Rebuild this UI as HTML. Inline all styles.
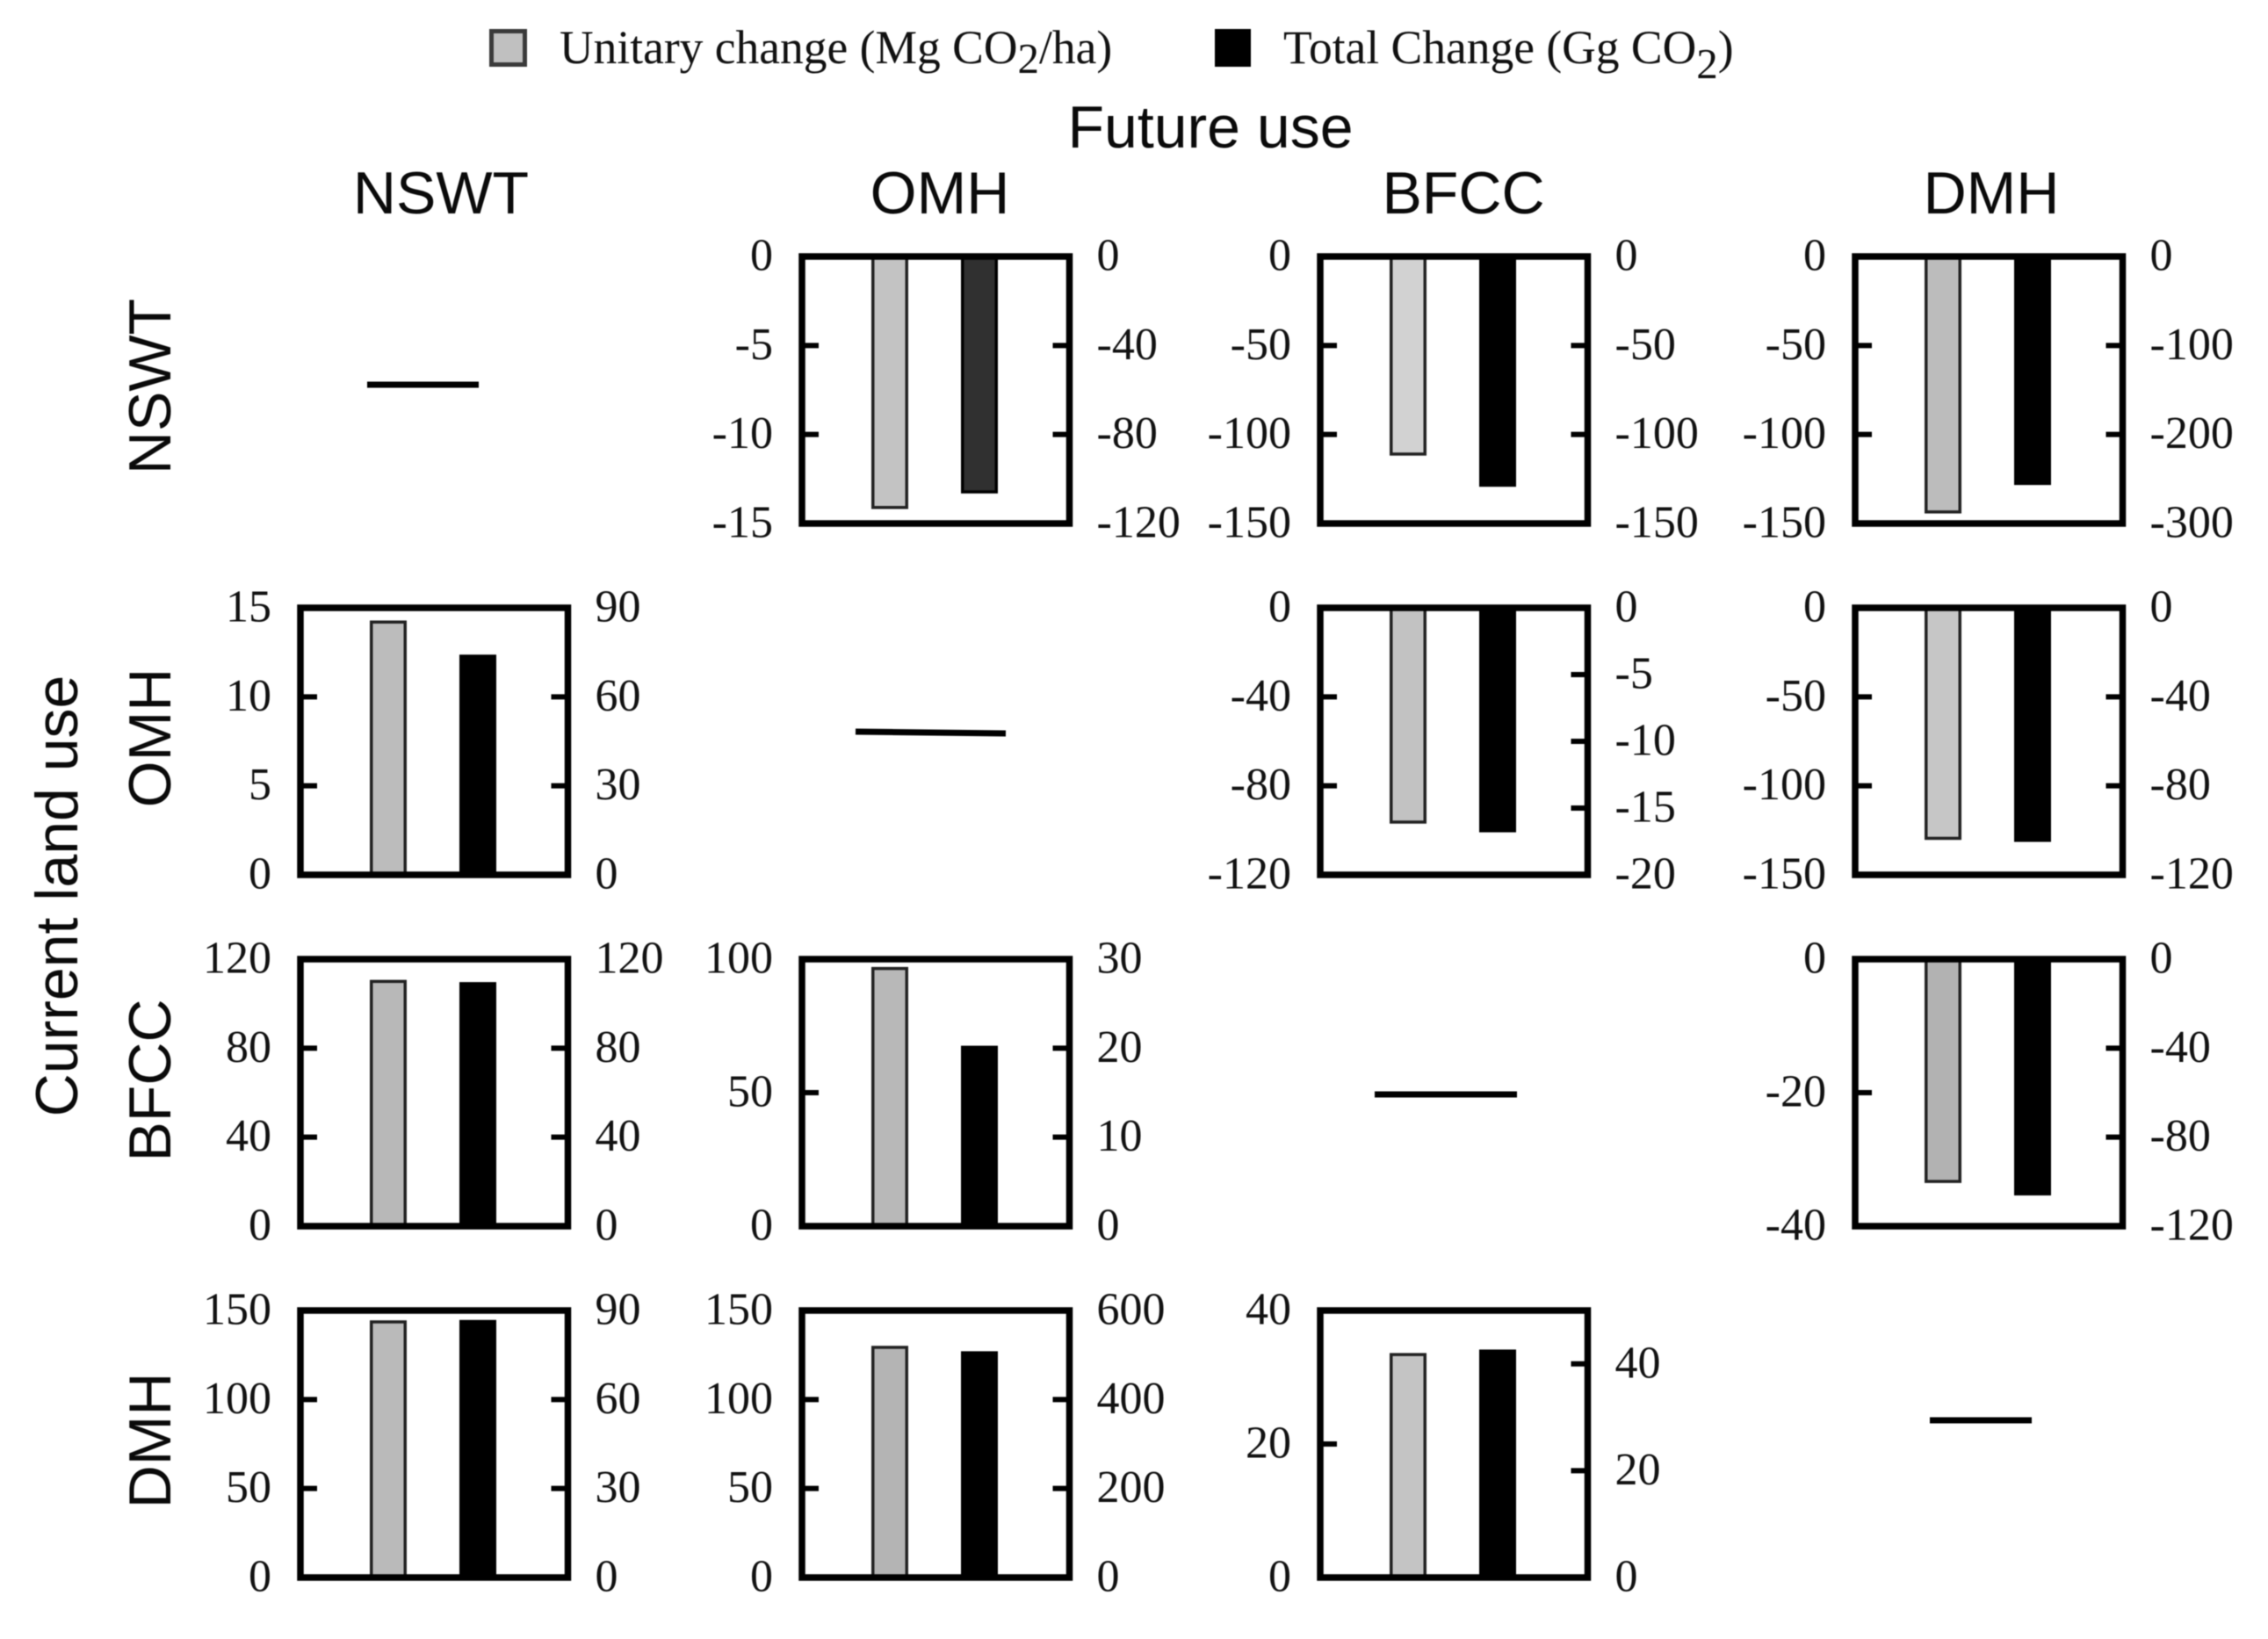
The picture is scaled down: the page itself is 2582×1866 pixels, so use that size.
<!DOCTYPE html>
<html lang="en">
<head>
<meta charset="utf-8">
<title>Land use change CO2 chart</title>
<style>
  html, body { margin: 0; padding: 0; background: #fff; }
  svg#chart { display: block; filter: blur(0.6px); }
  .sans { font-family: "Liberation Sans", Arial, sans-serif; font-size: 68px; fill: #0a0a0a; }
  .serif { font-family: "Liberation Serif", "Times New Roman", serif; fill: #111; }
  .legend-label { font-size: 53.5px; }
  .tick-label { font-size: 52px; }
</style>
</head>
<body>
<svg id="chart" xmlns="http://www.w3.org/2000/svg" width="2582" height="1866" viewBox="0 0 2582 1866">
  <rect x="0" y="0" width="2582" height="1866" fill="#fff"/>

  <g>
    <rect x="559.5" y="35.5" width="38" height="38" fill="#c0c0c0" stroke="#3a3a3a" stroke-width="5"/>
    <text class="serif legend-label" x="637" y="72">Unitary change (Mg CO<tspan font-size="49" dy="11">2</tspan><tspan dy="-11">/ha)</tspan></text>
    <rect x="1383" y="33" width="41" height="43" fill="#000"/>
    <text class="serif legend-label" x="1461" y="72">Total Change (Gg CO<tspan font-size="49" dy="17">2</tspan><tspan dy="-17">)</tspan></text>
  </g>

  <text class="sans" x="1378" y="168" text-anchor="middle">Future use</text>
  <text class="sans" x="502" y="243" text-anchor="middle">NSWT</text>
  <text class="sans" x="1070" y="243" text-anchor="middle">OMH</text>
  <text class="sans" x="1666" y="243" text-anchor="middle">BFCC</text>
  <text class="sans" x="2267" y="243" text-anchor="middle">DMH</text>

  <text class="sans" text-anchor="middle" transform="translate(88 1020) rotate(-90)">Current land use</text>
  <text class="sans" text-anchor="middle" transform="translate(194 440) rotate(-90)">NSWT</text>
  <text class="sans" text-anchor="middle" transform="translate(194 840) rotate(-90)">OMH</text>
  <text class="sans" text-anchor="middle" transform="translate(194 1230) rotate(-90)">BFCC</text>
  <text class="sans" text-anchor="middle" transform="translate(194 1640) rotate(-90)">DMH</text>

  <line x1="418" y1="438" x2="545" y2="438" stroke="#000" stroke-width="7"/>
  <line x1="974" y1="833" x2="1145" y2="835" stroke="#000" stroke-width="7"/>
  <line x1="1565" y1="1246" x2="1727" y2="1246" stroke="#000" stroke-width="7"/>
  <line x1="2197" y1="1617" x2="2313" y2="1617" stroke="#000" stroke-width="7"/>

  <g id="panels"></g>
</svg>

<script>
// Data: one entry per panel, same order in every array.
const landUses = ['nswt', 'omh', 'bfcc', 'dmh'];
const currentUseIndex = [0, 0, 0, 1, 1, 1, 2, 2, 2, 3, 3, 3];
const futureUseIndex = [1, 2, 3, 0, 2, 3, 0, 1, 3, 0, 1, 2];
const unitaryChange = [-14.1, -111, -143.5, 14.2, -96.3, -129.5, 110, 96.5, -33.3, 143.6, 129.3, 33.4];
const totalChange = [-105.8, -128.5, -255, 73.7, -16.7, -104.5, 109, 20.1, -105.5, 86.3, 505, 42.4];
const leftAxisEnd = [-15, -150, -150, 15, -120, -150, 120, 100, -40, 150, 150, 40];
const rightAxisEnd = [-120, -150, -300, 90, -20, -120, 120, 30, -120, 90, 600, 50];
const leftTicks = [
  [0, -5, -10, -15], [0, -50, -100, -150], [0, -50, -100, -150],
  [0, 5, 10, 15], [0, -40, -80, -120], [0, -50, -100, -150],
  [0, 40, 80, 120], [0, 50, 100], [0, -20, -40],
  [0, 50, 100, 150], [0, 50, 100, 150], [0, 20, 40]
];
const rightTicks = [
  [0, -40, -80, -120], [0, -50, -100, -150], [0, -100, -200, -300],
  [0, 30, 60, 90], [0, -5, -10, -15, -20], [0, -40, -80, -120],
  [0, 40, 80, 120], [0, 10, 20, 30], [0, -40, -80, -120],
  [0, 30, 60, 90], [0, 200, 400, 600], [0, 20, 40]
];

// Layout and style (kept apart from the data).
const SVG_NS = 'http://www.w3.org/2000/svg';
const columnLeft = [338, 909, 1499, 2108];
const rowTop = [288, 688, 1088, 1488];
const unitaryTone = ['#c3c3c3', '#d2d2d2', '#bcbcbc', '#bcbcbc', '#c2c2c2', '#c6c6c6', '#b8b8b8', '#b8b8b8', '#b2b2b2', '#bababa', '#b4b4b4', '#c4c4c4'];
const totalTone = ['#303030', '#000', '#000', '#000', '#000', '#000', '#000', '#000', '#000', '#000', '#000', '#000'];
const plotInset = 4, plotWidth = 304.5, plotHeight = 304;
const barWidth = 42, barStroke = 3.5, unitaryOffset = 83, totalOffset = 185;
const tickLength = 19, tickWidth = 6, labelGap = 29, labelBaseline = 15.5;

function make(tag, attrs) {
  const el = document.createElementNS(SVG_NS, tag);
  for (const key in attrs) el.setAttribute(key, attrs[key]);
  return el;
}

// Axis: zero sits at the top for negative axes and at the bottom for positive ones.
function axisScale(end, top) {
  const zero = end < 0 ? top : top + plotHeight;
  return function (value) {
    return zero + (end < 0 ? 1 : -1) * (value / Math.abs(end)) * plotHeight * (end < 0 ? -1 : 1);
  };
}

const root = document.getElementById('panels');

function drawBar(group, left, scale, value, fill, stroke, offset, name) {
  const y0 = scale(0), y1 = scale(value);
  const bar = make('rect', {
    x: left + offset + barStroke / 2,
    y: Math.min(y0, y1),
    width: barWidth - barStroke,
    height: Math.abs(y1 - y0),
    fill: fill,
    stroke: stroke,
    'stroke-width': barStroke
  });
  
  
  group.appendChild(bar);
}

function drawAxis(group, ticks, scale, isLeft, frameLeft, frameRight, plotLeft, plotRight, ends, prefix) {
  ticks.forEach(function (value) {
    const y = scale(value);
    if (y > ends[0] + 1 && y < ends[1] - 1) {
      const tick = make('line', {
        x1: isLeft ? plotLeft : plotRight,
        x2: isLeft ? plotLeft + tickLength : plotRight - tickLength,
        y1: y,
        y2: y,
        stroke: '#000',
        'stroke-width': tickWidth
      });
      
      
      group.appendChild(tick);
    }
    const label = make('text', {
      x: isLeft ? frameLeft - labelGap : frameRight + labelGap - 2,
      y: y + labelBaseline,
      'text-anchor': isLeft ? 'end' : 'start',
      class: 'serif tick-label'
    });
    
    
    label.textContent = String(value);
    group.appendChild(label);
  });
}

unitaryChange.forEach(function (unitary, i) {
  const frameLeft = columnLeft[futureUseIndex[i]];
  const frameTop = rowTop[currentUseIndex[i]];
  const plotLeft = frameLeft + plotInset;
  const plotTop = frameTop + plotInset;
  const plotRight = plotLeft + plotWidth;
  const frameRight = frameLeft + plotInset * 2 + plotWidth;
  const from = landUses[currentUseIndex[i]];
  const to = landUses[futureUseIndex[i]];
  const leftScale = axisScale(leftAxisEnd[i], plotTop);
  const rightScale = axisScale(rightAxisEnd[i], plotTop);
  const ends = [plotTop, plotTop + plotHeight];

  const group = make('g', {});
  
  

  drawBar(group, frameLeft, leftScale, unitary, unitaryTone[i], '#222', unitaryOffset, 'bar-unitary-change');
  drawBar(group, frameLeft, rightScale, totalChange[i], totalTone[i], '#000', totalOffset, 'bar-total-change');

  const frame = make('rect', {
    x: plotLeft,
    y: plotTop,
    width: plotWidth,
    height: plotHeight,
    fill: 'none',
    stroke: '#000',
    'stroke-width': 7.5
  });
  
  
  group.appendChild(frame);

  drawAxis(group, leftTicks[i], leftScale, true, frameLeft, frameRight, plotLeft, plotRight, ends, 'left-axis');
  drawAxis(group, rightTicks[i], rightScale, false, frameLeft, frameRight, plotLeft, plotRight, ends, 'right-axis');

  root.appendChild(group);
});
</script>
</body>
</html>
